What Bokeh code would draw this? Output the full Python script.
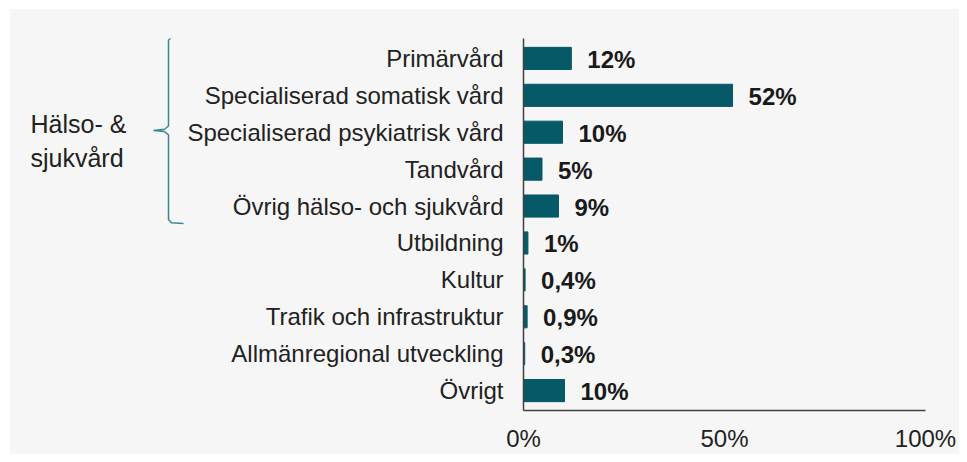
from bokeh.plotting import figure
from bokeh.layouts import row, column
from bokeh.models import Range1d, FixedTicker, Spacer
from bokeh.core.properties import value
from bokeh.embed import file_html
from bokeh.resources import INLINE

categories = [
    "Primärvård",
    "Specialiserad somatisk vård",
    "Specialiserad psykiatrisk vård",
    "Tandvård",
    "Övrig hälso- och sjukvård",
    "Utbildning",
    "Kultur",
    "Trafik och infrastruktur",
    "Allmänregional utveckling",
    "Övrigt",
]
shares = [11.9, 52.0, 9.7, 4.6, 8.7, 1.1, 0.4, 0.9, 0.3, 10.2]
share_labels = ["12%", "52%", "10%", "5%", "9%", "1%", "0,4%", "0,9%", "0,3%", "10%"]
group_label = ["Hälso- &", "sjukvård"]
group_members = categories[0:5]
x_ticks = [0, 50, 100]
x_tick_labels = ["0%", "50%", "100%"]

BG = "#f6f6f6"
BAR = "#065a68"
BRACE = "#3a8890"
FONT = "Liberation Sans"

idx = list(range(len(categories)))
y_range = Range1d(start=len(categories) - 0.46, end=-0.54)

# ---- main chart ----
p = figure(width=775, height=445, y_range=y_range, x_range=Range1d(0, 100),
           output_backend="svg", toolbar_location=None,
           min_border_left=337, min_border_right=34,
           min_border_top=29, min_border_bottom=43)
p.background_fill_color = BG
p.border_fill_color = BG
p.outline_line_color = None
p.grid.visible = False

p.hbar(y=idx, right=shares, left=0, height=0.6, color=BAR, line_color=BAR)
p.text(x=shares, y=idx, text=share_labels, x_offset=16, y_offset=1,
       text_baseline="middle", text_align="left",
       text_font=value(FONT), text_font_style="bold",
       text_font_size="24px", text_color="#1a1a1a")

p.yaxis.ticker = FixedTicker(ticks=idx)
p.yaxis.major_label_overrides = {i: c for i, c in zip(idx, categories)}
p.yaxis.major_tick_line_color = None
p.yaxis.minor_tick_line_color = None
p.yaxis.major_tick_out = 0
p.yaxis.major_label_standoff = 20
p.yaxis.major_label_text_font = FONT
p.yaxis.major_label_text_font_size = "24px"
p.yaxis.major_label_text_color = "#222222"
p.yaxis.axis_line_color = "#404040"
p.yaxis.axis_line_width = 1.5

p.xaxis.ticker = FixedTicker(ticks=x_ticks)
p.xaxis.major_label_overrides = {t: l for t, l in zip(x_ticks, x_tick_labels)}
p.xaxis.major_tick_line_color = None
p.xaxis.minor_tick_line_color = None
p.xaxis.major_tick_out = 0
p.xaxis.major_label_standoff = 14
p.xaxis.major_label_text_font = FONT
p.xaxis.major_label_text_font_size = "24px"
p.xaxis.major_label_text_color = "#222222"
p.xaxis.axis_line_color = "#404040"
p.xaxis.axis_line_width = 1.5

# ---- left group brace ----
q = figure(width=174, height=445, y_range=y_range, x_range=Range1d(10, 184),
           output_backend="svg", toolbar_location=None,
           min_border_left=0, min_border_right=0,
           min_border_top=29, min_border_bottom=43)
q.background_fill_color = BG
q.border_fill_color = BG
q.outline_line_color = None
q.grid.visible = False
q.axis.visible = False

top = categories.index(group_members[0]) - 0.595
bot = categories.index(group_members[-1]) + 0.47
mid = (categories.index(group_members[0]) + categories.index(group_members[-1])) / 2 - 0.05
xs = [183, 171, 168, 168, 164, 153, 164, 168, 168, 171, 183]
ys = [top, top + 0.02, top + 0.1, mid - 0.12, mid - 0.03, mid,
      mid + 0.03, mid + 0.12, bot - 0.1, bot - 0.02, bot]
q.line(xs, ys, line_color=BRACE, line_width=1.5)
q.text(x=[30, 30], y=[mid - 0.16, mid + 0.74], text=group_label,
       text_baseline="alphabetic", text_align="left",
       text_font=value(FONT), text_font_size="25px", text_color="#222222")

inner = row(q, p, styles={"background-color": BG})
layout = column(Spacer(height=9), row(Spacer(width=10), inner))
open("out.html", "w").write(file_html(layout, INLINE))
